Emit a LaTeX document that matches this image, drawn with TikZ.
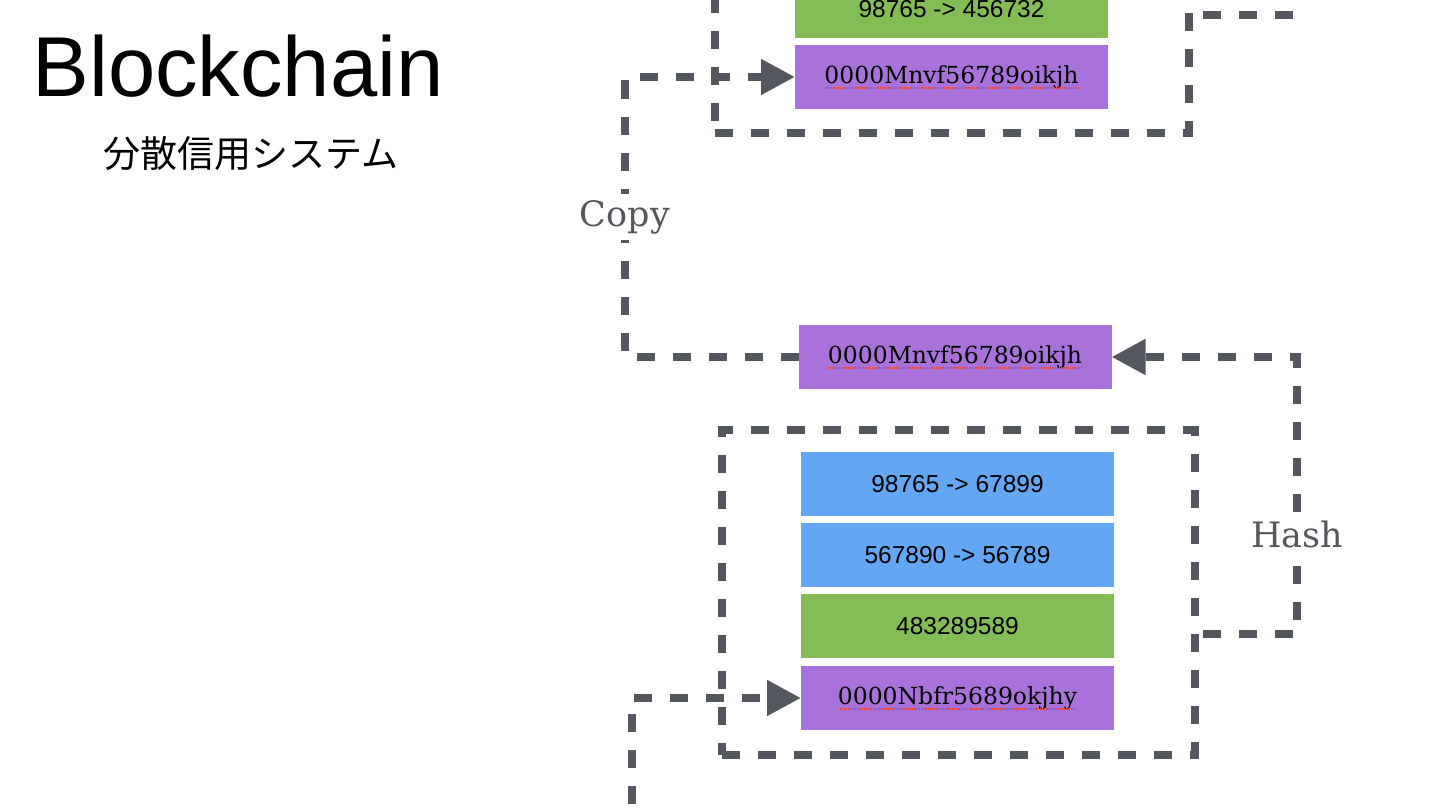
\documentclass[tikz,border=0pt]{standalone}
\usepackage{fontspec}
\setmainfont{Liberation Sans}
\newfontfamily\jpfont{Noto Sans CJK JP}
\newfontfamily\slabfont{DejaVu Serif}
\usetikzlibrary{arrows.meta}
\definecolor{lgray}{HTML}{54575E}
\definecolor{bgreen}{HTML}{84BD55}
\definecolor{bpurple}{HTML}{A872DA}
\definecolor{bblue}{HTML}{63A6F4}
\definecolor{squig}{HTML}{E0443C}
\begin{document}
\begin{tikzpicture}[x=1pt,y=-1pt,
  cell/.style={minimum width=313pt, minimum height=64pt, inner sep=0pt, outer sep=0pt},
  bluecell/.style={cell, fill=bblue, font=\fontsize{24.5}{28}\selectfont},
  greencell/.style={cell, fill=bgreen, font=\fontsize{24.5}{28}\selectfont},
  purplecell/.style={cell, fill=bpurple, font=\slabfont\fontsize{23.5}{28}\selectfont},
  dashline/.style={draw=lgray, line width=8pt, dash pattern=on 18pt off 18pt},
  blockbox/.style={dashline, inner sep=0pt},
  conn/.style={dashline, -{Triangle[length=34pt,width=34pt]}},
  lbl/.style={fill=white, text=lgray, font=\slabfont\fontsize{35}{40}\selectfont, inner sep=6pt},
  underl/.style={draw=squig, densely dotted, line width=1.2pt}
]
\useasboundingbox (0,0) rectangle (1438,808);

% title
\node (title) at (238,66) {\fontsize{85}{90}\selectfont Blockchain};
\node (subtitle) at (251,154) {\jpfont\fontsize{37}{42}\selectfont 分散信用システム};

% top block (cut off)
\node[blockbox, minimum width=474pt, minimum height=333pt] (box1) at (952,-33.5) {};
\node[greencell, minimum height=58pt] (g0) at (951.5,9.5) {98765 -> 456732};
\node[purplecell] (p1) at (951.5,77) {0000Mnvf56789oikjh};

% copied hash
\node[purplecell] (p2) at (955,357) {0000Mnvf56789oikjh};

% lower block
\node[blockbox, minimum width=473pt, minimum height=325pt] (box2) at (958.5,592.5) {};
\node[bluecell] (b1) at (957.5,484) {98765 -> 67899};
\node[bluecell] (b2) at (957.5,555) {567890 -> 56789};
\node[greencell] (g2) at (957.5,626) {483289589};
\node[purplecell] (p3) at (957.5,698) {0000Nbfr5689okjhy};

% spell-check underlines
\draw[underl] ([xshift=-127pt,yshift=-11pt]p1.center) -- ([xshift=127pt,yshift=-11pt]p1.center);
\draw[underl] ([xshift=-127pt,yshift=-11pt]p2.center) -- ([xshift=127pt,yshift=-11pt]p2.center);
\draw[underl] ([xshift=-118pt,yshift=-11pt]p3.center) -- ([xshift=118pt,yshift=-11pt]p3.center);

% connectors
\coordinate (t1) at (1203,15);
\coordinate (t2) at (1295,15);
\draw[dashline] (t1) -- (t2);

\draw[conn] (p2.west) -- (625,357) |- node[lbl, pos=0.25] (copy) {Copy} (p1.west);

\coordinate (hs) at (1203,634);
\draw[conn] (hs) -- (1297,634) |- node[lbl, pos=0.18] (hash) {Hash} (p2.east);

\coordinate (b0) at (632,840);
\draw[conn] (b0) |- (p3.west);
\end{tikzpicture}
\end{document}
